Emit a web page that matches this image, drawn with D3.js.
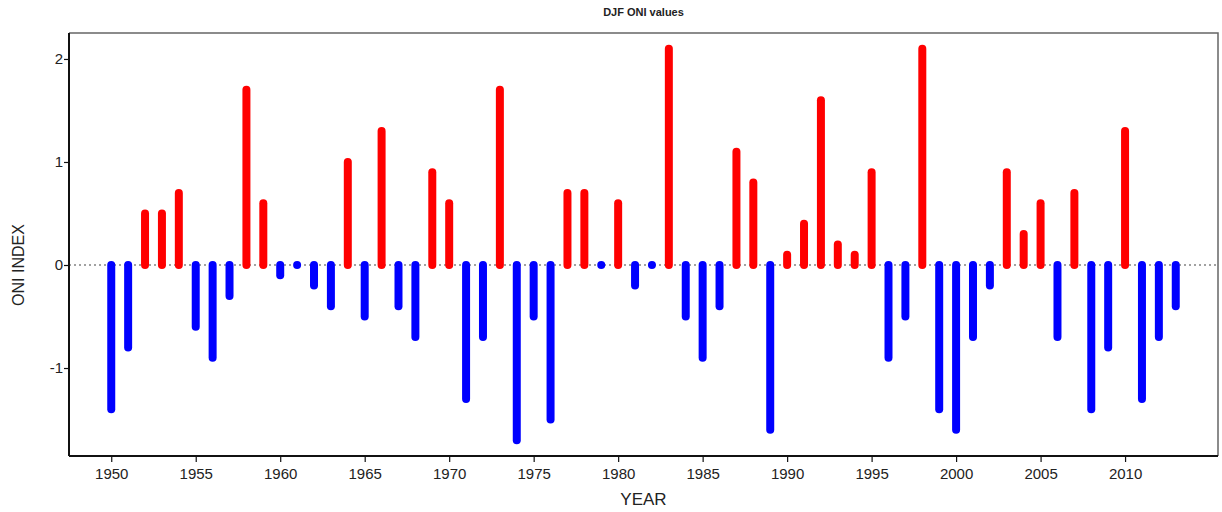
<!DOCTYPE html>
<html>
<head>
<meta charset="utf-8">
<script src="https://cdn.jsdelivr.net/npm/d3@7"></script>
<style>
    body { margin: 0; background: #fff; }
    text { font-family: "Liberation Sans", Arial, sans-serif; }
</style>
</head>
<body>
<div id="content"></div>
<script>
const years = d3.range(1950, 2014);
const oni = [
    -1.4, -0.8, 0.5, 0.5, 0.7, -0.6, -0.9, -0.3, 1.7, 0.6,
    -0.1, 0.0, -0.2, -0.4, 1.0, -0.5, 1.3, -0.4, -0.7, 0.9,
    0.6, -1.3, -0.7, 1.7, -1.7, -0.5, -1.5, 0.7, 0.7, 0.0,
    0.6, -0.2, 0.0, 2.1, -0.5, -0.9, -0.4, 1.1, 0.8, -1.6,
    0.1, 0.4, 1.6, 0.2, 0.1, 0.9, -0.9, -0.5, 2.1, -1.4,
    -1.6, -0.7, -0.2, 0.9, 0.3, 0.6, -0.7, 0.7, -1.4, -0.8,
    1.3, -1.3, -0.7, -0.4
];
const xTicks = d3.range(1950, 2011, 5);
const yTicks = [-1, 0, 1, 2];

const width = 1222, height = 512;
const margin = { top: 33, right: 4, bottom: 56, left: 69 };

const svg = d3.select("#content")
    .append("svg")
    .attr("width", width)
    .attr("height", height);

const x = d3.scaleLinear()
    .domain([1947.5, 2015.5])
    .range([margin.left, width - margin.right]);
const y = d3.scaleLinear()
    .domain([-1.854, 2.252])
    .range([height - margin.bottom, margin.top]);

// grey frame on top and right
svg.append("path")
    .attr("d", "M" + x.range()[0] + "," + y.range()[1] + "H" + x.range()[1] + "V" + y.range()[0])
    .attr("fill", "none")
    .attr("stroke", "#666")
    .attr("stroke-width", 1.5);

// zero line
svg.append("line")
    .attr("x1", x.range()[0]).attr("x2", x.range()[1])
    .attr("y1", y(0)).attr("y2", y(0))
    .attr("stroke", "#444")
    .attr("stroke-width", 1.2)
    .attr("stroke-dasharray", "2,3");

// bars as thick round-capped lines
svg.append("g")
    .selectAll("line")
    .data(years)
    .enter()
    .append("line")
    .attr("x1", function (d) { return x(d); })
    .attr("x2", function (d) { return x(d); })
    .attr("y1", y(0))
    .attr("y2", function (d, i) { return y(oni[i]); })
    .attr("stroke", function (d, i) { return oni[i] > 0 ? "#ff0000" : "#0000ff"; })
    .attr("stroke-width", 8)
    .attr("stroke-linecap", "round");

const xAxis = svg.append("g")
    .attr("transform", "translate(0," + y.range()[0] + ")")
    .call(d3.axisBottom(x).tickValues(xTicks).tickFormat(function (d) { return String(d); }).tickSize(6).tickSizeOuter(0));
const yAxis = svg.append("g")
    .attr("transform", "translate(" + x.range()[0] + ",0)")
    .call(d3.axisLeft(y).tickValues(yTicks).tickFormat(function (d) { return String(d); }).tickSize(5).tickSizeOuter(0));

[xAxis, yAxis].forEach(function (a) {
    a.select(".domain").attr("stroke", "#111").attr("stroke-width", 2);
    a.selectAll(".tick line").attr("stroke", "#111").attr("stroke-width", 1.2);
    a.selectAll(".tick text")
        .attr("fill", "#222")
        .style("font-family", "'Liberation Sans', Arial, sans-serif")
        .style("font-size", "15px");
});
xAxis.selectAll(".tick text").attr("dy", "1em").attr("y", 8);
yAxis.selectAll(".tick text").attr("x", -6);
xAxis.select(".domain").attr("d", "M" + x.range()[0] + ",0H" + x.range()[1]);
yAxis.select(".domain").attr("d", "M0," + y.range()[0] + "V" + y.range()[1]);

svg.append("text")
    .attr("x", (x.range()[0] + x.range()[1]) / 2)
    .attr("y", 16)
    .attr("text-anchor", "middle")
    .style("font-size", "11px")
    .style("font-weight", "bold")
    .attr("fill", "#222")
    .text("DJF ONI values");

svg.append("text")
    .attr("x", (x.range()[0] + x.range()[1]) / 2)
    .attr("y", 505)
    .attr("text-anchor", "middle")
    .style("font-size", "17px")
    .attr("fill", "#222")
    .text("YEAR");

svg.append("text")
    .attr("transform", "translate(24," + y(0) + ") rotate(-90)")
    .attr("text-anchor", "middle")
    .style("font-size", "16px")
    .attr("fill", "#222")
    .text("ONI INDEX");
</script>
</body>
</html>
